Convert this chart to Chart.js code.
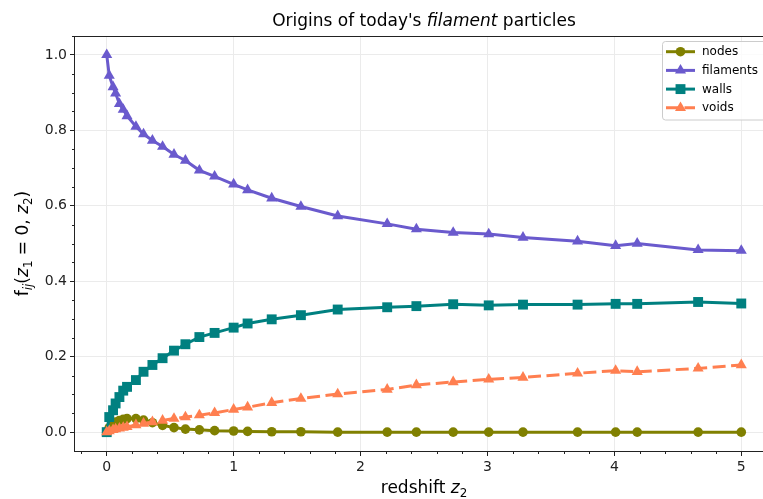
<!DOCTYPE html>
<html>
<head>
<meta charset="utf-8">
<script src="https://cdn.jsdelivr.net/npm/chart.js@4.4.1/dist/chart.umd.min.js"></script>
<style>
  html, body { margin: 0; padding: 0; background: #fff; overflow: hidden; }
  #wrap { width: 763px; height: 499px; overflow: hidden; }
</style>
</head>
<body>
<div id="wrap"><canvas id="myChart" width="800" height="499"></canvas></div>
<script>
const redshift = [0, 0.02, 0.05, 0.07, 0.1, 0.13, 0.16, 0.23, 0.29, 0.36, 0.44, 0.53, 0.62, 0.73, 0.85,
  1.0, 1.11, 1.3, 1.53, 1.82, 2.21, 2.44, 2.73, 3.01, 3.28, 3.71, 4.01, 4.18, 4.66, 5.0];
const nodes = [0.0, 0.012, 0.022, 0.027, 0.031, 0.034, 0.036, 0.036, 0.032, 0.025, 0.018, 0.012, 0.008, 0.006, 0.004,
  0.003, 0.002, 0.001, 0.001, 0, 0, 0, 0, 0, 0, 0, 0, 0, 0, 0];
const filaments = [1.0, 0.945, 0.915, 0.898, 0.87, 0.855, 0.838, 0.81, 0.79, 0.773, 0.757, 0.736, 0.72, 0.694, 0.678,
  0.657, 0.642, 0.62, 0.598, 0.573, 0.552, 0.538, 0.529, 0.525, 0.516, 0.506, 0.494, 0.5, 0.483, 0.481];
const walls = [0.0, 0.04, 0.058, 0.076, 0.093, 0.11, 0.12, 0.138, 0.16, 0.178, 0.196, 0.216, 0.233, 0.252, 0.263,
  0.277, 0.288, 0.299, 0.31, 0.325, 0.331, 0.334, 0.339, 0.336, 0.338, 0.338, 0.34, 0.34, 0.345, 0.341];
const voids = [0.0, 0.003, 0.006, 0.008, 0.01, 0.012, 0.014, 0.019, 0.023, 0.027, 0.031, 0.036, 0.04, 0.045, 0.051,
  0.06, 0.066, 0.078, 0.089, 0.101, 0.113, 0.125, 0.133, 0.14, 0.145, 0.156, 0.163, 0.16, 0.169, 0.178];

const xTicks = [0, 1, 2, 3, 4, 5];
const yTicks = [0, 0.2, 0.4, 0.6, 0.8, 1.0];

const FAMILY = "'DejaVu Sans', sans-serif";
const INK = '#222';

const series = [
  { label: 'nodes', data: nodes, color: '#808000', style: 'circle', radius: 4.8 },
  { label: 'filaments', data: filaments, color: '#6a5acd', style: 'triangle', radius: 6.4 },
  { label: 'walls', data: walls, color: '#008080', style: 'rect', radius: 7 },
  { label: 'voids', data: voids, color: '#ff7f50', style: 'triangle', radius: 6.4, dash: [13, 5.5] },
];

// text made of runs: plain, italic and subscript pieces on one baseline
function drawRuns(ctx, runs, x, y, size) {
  const parts = runs.map(r => {
    const fs = r.sub ? size * 0.7 : size;
    const font = (r.it ? 'italic ' : '') + fs + 'px ' + FAMILY;
    ctx.font = font;
    return { t: r.t, font, w: ctx.measureText(r.t).width, dy: r.sub ? size * 0.22 : 0 };
  });
  const total = parts.reduce((s, p) => s + p.w, 0);
  let cx = x - total / 2;
  ctx.textAlign = 'left';
  ctx.textBaseline = 'alphabetic';
  for (const p of parts) {
    ctx.font = p.font;
    ctx.fillText(p.t, cx, y + p.dy);
    cx += p.w;
  }
}

function marker(ctx, style, r, x, y) {
  ctx.beginPath();
  if (style === 'circle') {
    ctx.arc(x, y, r, 0, Math.PI * 2);
  } else if (style === 'rect') {
    const s = r * Math.SQRT1_2;
    ctx.rect(x - s, y - s, 2 * s, 2 * s);
  } else {
    ctx.moveTo(x, y - r);
    ctx.lineTo(x - r * 0.866, y + r * 0.5);
    ctx.lineTo(x + r * 0.866, y + r * 0.5);
    ctx.closePath();
  }
  ctx.fill();
}

const decor = {
  id: 'decor',
  afterDatasetsDraw(chart) {
    const { ctx, chartArea: a, scales: { x, y } } = chart;
    const mid = (a.left + a.right) / 2;
    ctx.save();
    ctx.strokeStyle = INK;
    ctx.lineWidth = 1;
    ctx.strokeRect(a.left - 0.5, a.top + 0.5, a.right - a.left, a.bottom - a.top);

    // minor ticks
    ctx.beginPath();
    for (let k = -1; k <= 26; k++) {
      if (k % 5 === 0) continue;
      const px = Math.round(x.getPixelForValue(k * 0.2)) + 0.5;
      if (px < a.left || px > a.right) continue;
      ctx.moveTo(px, a.bottom);
      ctx.lineTo(px, a.bottom + 3);
    }
    for (let k = -1; k <= 21; k++) {
      if (k % 4 === 0) continue;
      const py = Math.round(y.getPixelForValue(k * 0.05)) + 0.5;
      if (py < a.top || py > a.bottom) continue;
      ctx.moveTo(a.left, py);
      ctx.lineTo(a.left - 3, py);
    }
    ctx.stroke();

    ctx.fillStyle = '#000';
    drawRuns(ctx, [{ t: "Origins of today's " }, { t: 'filament', it: true }, { t: ' particles' }], mid, 26, 17);
    drawRuns(ctx, [{ t: 'redshift ' }, { t: 'z', it: true }, { t: '2', sub: true }], mid, 493, 17);

    ctx.save();
    ctx.translate(28, (a.top + a.bottom) / 2);
    ctx.rotate(-Math.PI / 2);
    drawRuns(ctx, [
      { t: 'f' }, { t: 'ij', it: true, sub: true }, { t: '(' }, { t: 'z', it: true }, { t: '1', sub: true },
      { t: ' = 0, ' }, { t: 'z', it: true }, { t: '2', sub: true }, { t: ')' },
    ], 0, 0, 17);
    ctx.restore();

    // legend
    const bx = 662, by = 41.5, bw = 104, bh = 78.5;
    ctx.beginPath();
    ctx.roundRect(bx + 0.5, by, bw, bh, 3);
    ctx.fillStyle = 'rgba(255,255,255,0.8)';
    ctx.fill();
    ctx.strokeStyle = '#cccccc';
    ctx.stroke();
    series.forEach((s, i) => {
      const ry = 51.7 + i * 18.7;
      ctx.strokeStyle = s.color;
      ctx.fillStyle = s.color;
      ctx.lineWidth = 3;
      ctx.setLineDash(s.dash || []);
      ctx.beginPath();
      ctx.moveTo(666, ry);
      ctx.lineTo(695, ry);
      ctx.stroke();
      ctx.setLineDash([]);
      marker(ctx, s.style, s.radius, 680.5, ry);
      ctx.fillStyle = '#000';
      ctx.font = '12px ' + FAMILY;
      ctx.textAlign = 'left';
      ctx.textBaseline = 'middle';
      ctx.fillText(s.label, 702, ry + 0.5);
    });
    ctx.restore();
  },
};

const ctx = document.getElementById('myChart');

const myChart = new Chart(ctx, {
  type: 'line',
  data: {
    datasets: series.map((s, i) => ({
      label: s.label,
      data: redshift.map((z, k) => ({ x: z, y: s.data[k] })),
      borderColor: s.color,
      backgroundColor: s.color,
      borderWidth: 3,
      borderDash: s.dash || [],
      pointStyle: s.style,
      pointRadius: s.radius,
      pointHoverRadius: s.radius,
      pointBorderWidth: 0,
      tension: 0,
      fill: false,
      order: series.length - i,
    })),
  },
  options: {
    responsive: false,
    animation: false,
    devicePixelRatio: 1,
    layout: { padding: { top: 36, right: 27, bottom: 0, left: 0 } },
    plugins: {
      legend: { display: false },
      title: { display: false },
      tooltip: { enabled: false },
    },
    scales: {
      x: {
        type: 'linear',
        min: -0.25,
        max: 5.25,
        afterBuildTicks: scale => { scale.ticks = xTicks.map(v => ({ value: v })); },
        afterFit: scale => { scale.height = 48; },
        grid: { color: '#ebebeb', lineWidth: 1, tickColor: INK, tickLength: 5 },
        border: { display: false },
        ticks: {
          font: { family: FAMILY, size: 14 },
          color: INK,
          padding: 3,
          maxRotation: 0,
          callback: v => String(v),
        },
      },
      y: {
        type: 'linear',
        min: -0.05,
        max: 1.05,
        afterBuildTicks: scale => { scale.ticks = yTicks.map(v => ({ value: v })); },
        afterFit: scale => { scale.width = 75; },
        grid: { color: '#ebebeb', lineWidth: 1, tickColor: INK, tickLength: 5 },
        border: { display: false },
        ticks: {
          font: { family: FAMILY, size: 14 },
          color: INK,
          padding: 3,
          callback: v => v.toFixed(1),
        },
      },
    },
  },
  plugins: [decor],
});
</script>
</body>
</html>
